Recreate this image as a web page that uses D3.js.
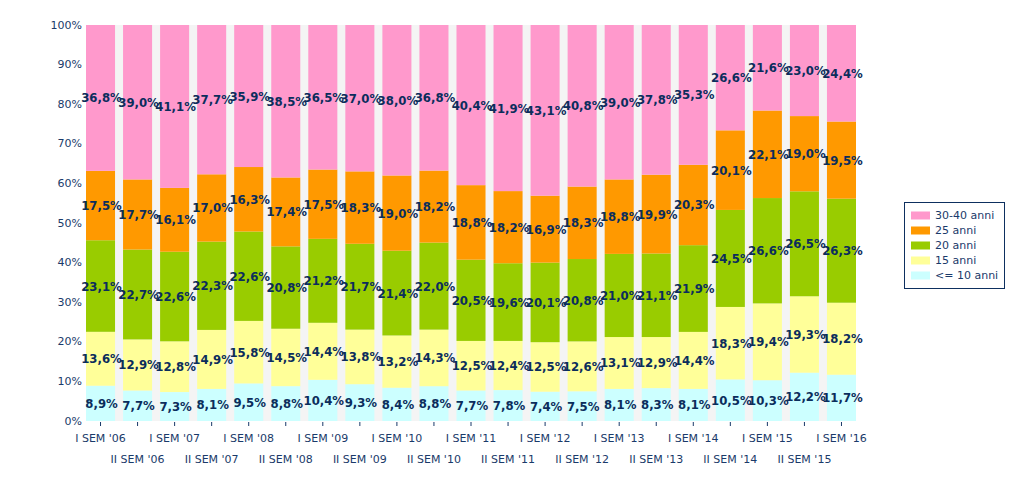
<!DOCTYPE html>
<html><head><meta charset="utf-8">
<script src="https://cdn.jsdelivr.net/npm/d3@7"></script>
<style>body{margin:0;background:#fff}</style>
</head><body>
<script>
const categories = ["I SEM '06","II SEM '06","I SEM '07","II SEM '07","I SEM '08","II SEM '08","I SEM '09","II SEM '09","I SEM '10","II SEM '10","I SEM '11","II SEM '11","I SEM '12","II SEM '12","I SEM '13","II SEM '13","I SEM '14","II SEM '14","I SEM '15","II SEM '15","I SEM '16"];
const seriesNames = ["<= 10 anni","15 anni","20 anni","25 anni","30-40 anni"];
const s10 = [8.9,7.7,7.3,8.1,9.5,8.8,10.4,9.3,8.4,8.8,7.7,7.8,7.4,7.5,8.1,8.3,8.1,10.5,10.3,12.2,11.7];
const s15 = [13.6,12.9,12.8,14.9,15.8,14.5,14.4,13.8,13.2,14.3,12.5,12.4,12.5,12.6,13.1,12.9,14.4,18.3,19.4,19.3,18.2];
const s20 = [23.1,22.7,22.6,22.3,22.6,20.8,21.2,21.7,21.4,22.0,20.5,19.6,20.1,20.8,21.0,21.1,21.9,24.5,26.6,26.5,26.3];
const s25 = [17.5,17.7,16.1,17.0,16.3,17.4,17.5,18.3,19.0,18.2,18.8,18.2,16.9,18.3,18.8,19.9,20.3,20.1,22.1,19.0,19.5];
const s30 = [36.8,39.0,41.1,37.7,35.9,38.5,36.5,37.0,38.0,36.8,40.4,41.9,43.1,40.8,39.0,37.8,35.3,26.6,21.6,23.0,24.4];
const yTicks = [0,10,20,30,40,50,60,70,80,90,100];
const colors = ["#ccffff","#ffff99","#99cc00","#ff9900","#ff99cc"];

(function(){
const W = 1036, H = 491;
const pl = 86, pr = 856, pt = 25, pb = 421;
const seriesVals = [s10,s15,s20,s25,s30];
const table = categories.map((c,i)=>{const o={cat:c}; seriesNames.forEach((n,k)=>o[n]=seriesVals[k][i]); return o;});
const stacked = d3.stack().keys(seriesNames).offset(d3.stackOffsetExpand)(table);

const svg = d3.select("body").append("svg").attr("width",W).attr("height",H);
const x = d3.scaleBand().domain(categories).range([pl, pr]).paddingInner(8/37).paddingOuter(0);
const y = d3.scaleLinear().domain([0,1]).range([pb, pt]);

svg.append("rect").attr("x",pl).attr("y",pt).attr("width",pr-pl).attr("height",pb-pt).attr("fill","#f4f4f4");

const navy = "#0b2d5c";
const bw = x.bandwidth();
const g = svg.selectAll("g.s").data(stacked).join("g").attr("class","s").attr("fill",(d,i)=>colors[i]);
g.selectAll("rect").data(d=>d).join("rect")
  .attr("x",d=>x(d.data.cat)).attr("width",bw)
  .attr("y",d=>y(d[1])).attr("height",d=>y(d[0])-y(d[1]));

const fmt = v => v.toFixed(1).replace(".",",")+"%";
stacked.forEach((layer,k)=>{
  svg.append("g").selectAll("text").data(layer).join("text")
    .attr("x",d=>x(d.data.cat)+bw/2+1)
    .attr("y",d=>(y(d[0])+y(d[1]))/2)
    .attr("text-anchor","middle").attr("dominant-baseline","central")
    .attr("font-family","'DejaVu Sans Condensed','DejaVu Sans',sans-serif")
    .attr("font-weight","bold").attr("font-size","13px").attr("fill",navy)
    .text(d=>fmt(d.data[layer.key]));
});

svg.append("g").selectAll("text").data(yTicks).join("text")
  .attr("x",82).attr("y",d=>y(d/100)).attr("text-anchor","end").attr("dominant-baseline","central")
  .attr("font-family","'DejaVu Sans',sans-serif").attr("font-size","11px").attr("fill","#1a3a6a")
  .text(d=>d+"%");

const xa = svg.append("g");
xa.selectAll("line").data(categories).join("line")
  .attr("x1",d=>x(d)+bw/2).attr("x2",d=>x(d)+bw/2).attr("y1",pb+1).attr("y2",pb+5)
  .attr("stroke","#1a3a6a").attr("stroke-width",1);
xa.selectAll("text").data(categories).join("text")
  .attr("x",d=>x(d)+bw/2).attr("y",(d,i)=>i%2===0?438:459)
  .attr("text-anchor","middle").attr("dominant-baseline","central")
  .attr("font-family","'DejaVu Sans',sans-serif").attr("font-size","11px").attr("fill","#1a3a6a")
  .text(d=>d);

const lg = svg.append("g");
lg.append("rect").attr("x",904.5).attr("y",202.5).attr("width",100).attr("height",86).attr("fill","#fff").attr("stroke","#0d2f5f");
const legItems = seriesNames.slice().reverse();
const legCols = colors.slice().reverse();
legItems.forEach((n,i)=>{
  const cy = 215.5 + i*15;
  lg.append("rect").attr("x",911).attr("y",cy-4).attr("width",19).attr("height",8).attr("fill",legCols[i]);
  lg.append("text").attr("x",935).attr("y",cy).attr("dominant-baseline","central")
    .attr("font-family","'DejaVu Sans',sans-serif").attr("font-size","11px").attr("fill","#1a3a6a").text(n);
});
})();
</script>
</body></html>
